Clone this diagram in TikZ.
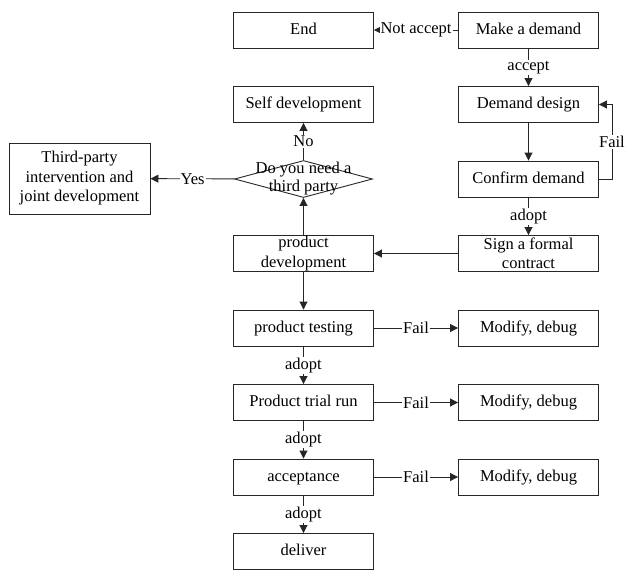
\documentclass[tikz,border=0pt]{standalone}
\usepackage{fontspec}
\setmainfont{Liberation Serif}
\usepackage{tikz}
\usetikzlibrary{arrows.meta,shapes.geometric}

\begin{document}
\begin{tikzpicture}[x=1pt,y=-1pt,
    font=\fontsize{16.5}{19.5}\selectfont,
    line width=0.9pt,
    box/.style={draw=black!85,minimum width=140pt,minimum height=36pt,inner sep=1pt,align=center},
    onebox/.style={box,text height=11.5pt,text depth=3.5pt},
    dia/.style={draw=black!85,diamond,minimum width=138pt,minimum height=37pt,inner sep=0pt},
    lbl/.style={fill=white,inner sep=1pt},
    arr/.style={draw=black!85,-{Triangle[length=8pt,width=8pt]}}]
    \useasboundingbox (0,0) rectangle (627,571);
    % right column
    \node[onebox] (demand) at (528.5,30) {Make a demand};
    \node[onebox] (design) at (528.5,104.5) {Demand design};
    \node[onebox] (confirm) at (528.5,179) {Confirm demand};
    \node[box] (contract) at (528.5,253.5) {Sign a formal\\contract};
    \node[onebox] (mod1) at (528.5,328) {Modify, debug};
    \node[onebox] (mod2) at (528.5,402.5) {Modify, debug};
    \node[onebox] (mod3) at (528.5,477) {Modify, debug};
    % left column
    \node[onebox] (end) at (303.5,30) {End};
    \node[onebox] (self) at (303.5,104.5) {Self development};
    \node[dia] (need) at (303.5,179) {};
    \node[align=center,font=\fontsize{16.5}{18}\selectfont] at (need) {Do you need a\\third party};
    \node[box] (pdev) at (303.5,253.5) {product\\development};
    \node[onebox] (ptest) at (303.5,328) {product testing};
    \node[onebox] (trial) at (303.5,402.5) {Product trial run};
    \node[onebox] (accept) at (303.5,477) {acceptance};
    \node[onebox] (deliver) at (303.5,551.5) {deliver};
    \node[box,minimum width=141pt,minimum height=71pt] (third) at (79.5,178.5) {Third-party\\intervention and\\joint development};
    % connectors
    \draw[arr] (demand) -- node[lbl] {Not accept} (end);
    \draw[arr] (demand) -- node[lbl] {accept} (design);
    \draw[arr] (design) -- (confirm);
    \draw[arr] (confirm.east) -- ++(13,0) |- node[lbl,pos=0.25] {Fail} (design.east);
    \draw[arr] (confirm) -- node[lbl] {adopt} (contract);
    \draw[arr] (contract) -- (pdev);
    \draw[arr] (pdev) -- (need);
    \draw[arr] (need) -- node[lbl] {No} (self);
    \draw[arr] (need) -- node[lbl] {Yes} (third);
    \draw[arr] (pdev) -- (ptest);
    \draw[arr] (ptest) -- node[lbl] {adopt} (trial);
    \draw[arr] (trial) -- node[lbl] {adopt} (accept);
    \draw[arr] (accept) -- node[lbl] {adopt} (deliver);
    \draw[arr] (ptest) -- node[lbl] {Fail} (mod1);
    \draw[arr] (trial) -- node[lbl] {Fail} (mod2);
    \draw[arr] (accept) -- node[lbl] {Fail} (mod3);
\end{tikzpicture}
\end{document}
